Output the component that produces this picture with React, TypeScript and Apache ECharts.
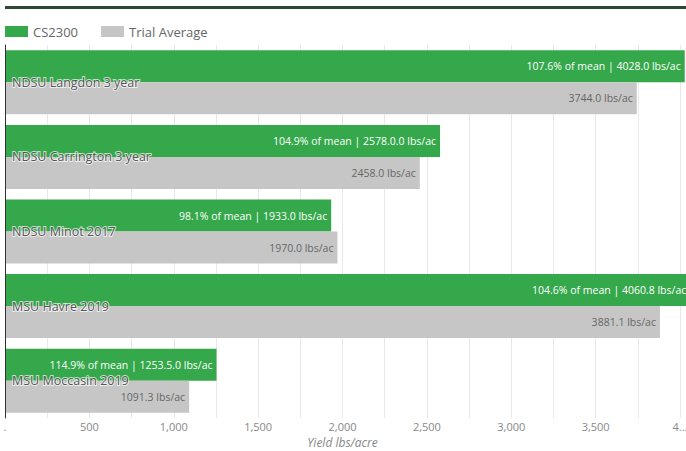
import React, { useEffect, useRef } from "react";
import * as echarts from "echarts";

const categories = [
  "NDSU Langdon 3 year",
  "NDSU Carrington 3 year",
  "NDSU Minot 2017",
  "MSU Havre 2019",
  "MSU Moccasin 2019",
];
const cs2300 = [4028.0, 2578.0, 1933.0, 4060.8, 1253.5];
const trialAverage = [3744.0, 2458.0, 1970.0, 3881.1, 1091.3];
const pctOfMean = ["107.6", "104.9", "98.1", "104.6", "114.9"];
const cs2300LabelYield = ["4028.0", "2578.0.0", "1933.0", "4060.8", "1253.5.0"];
const trialLabelYield = ["3744.0", "2458.0", "1970.0", "3881.1", "1091.3"];
const xTickValues = [0, 500, 1000, 1500, 2000, 2500, 3000, 3500, 4000];
const xTickLabels = [".", "500", "1,000", "1,500", "2,000", "2,500", "3,000", "3,500", "4..."];

const FONT = "'Open Sans', 'Noto Sans', sans-serif";

export default function App() {
  const ref = useRef<HTMLDivElement>(null);
  useEffect(() => {
    if (!ref.current) return;
    const chart = echarts.init(ref.current, undefined, { renderer: "svg" });
    chart.setOption({
      animation: false,
      textStyle: { fontFamily: FONT },
      graphic: [
        {
          type: "line",
          shape: { x1: 5, y1: 7.5, x2: 686, y2: 7.5 },
          style: { stroke: "#2c4a30", lineWidth: 3 },
        },
      ],
      legend: {
        left: 0,
        top: 20,
        itemWidth: 23,
        itemHeight: 11,
        itemGap: 23,
        icon: "rect",
        textStyle: { color: "#666", fontSize: 13, fontFamily: FONT },
        data: ["CS2300", "Trial Average"],
      },
      grid: {
        left: 5,
        right: 6,
        top: 45,
        bottom: 33,
        containLabel: false,
        outerBoundsMode: "none",
      },
      xAxis: {
        type: "value",
        min: 0,
        max: 4000,
        interval: 250,
        axisLine: { show: false },
        axisTick: { show: false },
        splitLine: { show: true, lineStyle: { color: "#e8e8e8", width: 1 } },
        axisLabel: {
          color: "#888",
          fontSize: 11,
          margin: 3,
          showMaxLabel: true,
          formatter: (v: number) => {
            const i = xTickValues.indexOf(v);
            return i >= 0 ? xTickLabels[i] : "";
          },
        },
        name: "Yield lbs/acre",
        nameLocation: "middle",
        nameGap: 18,
        nameTextStyle: { color: "#888", fontSize: 12, fontStyle: "italic", fontFamily: FONT },
      },
      yAxis: {
        type: "category",
        data: categories,
        inverse: true,
        z: 10,
        axisLine: { show: true, lineStyle: { color: "#333", width: 1 } },
        axisTick: { show: false },
        splitLine: { show: false },
        axisLabel: {
          inside: true,
          margin: 7,
          color: "#555",
          fontSize: 12.5,
          fontFamily: FONT,
          textBorderColor: "rgba(255,255,255,0.7)",
          textBorderWidth: 2,
        },
      },
      series: [
        {
          name: "CS2300",
          type: "bar",
          data: cs2300,
          barWidth: 32,
          barGap: "0%",
          clip: false,
          itemStyle: { color: "#34a84a" },
          label: {
            show: true,
            position: "insideRight",
            distance: 4,
            color: "#fff",
            fontSize: 10.5,
            fontFamily: FONT,
            formatter: (p: any) =>
              `${pctOfMean[p.dataIndex]}% of mean | ${cs2300LabelYield[p.dataIndex]} lbs/ac`,
          },
        },
        {
          name: "Trial Average",
          type: "bar",
          data: trialAverage,
          barWidth: 32,
          barGap: "0%",
          clip: false,
          itemStyle: { color: "#c6c6c6" },
          label: {
            show: true,
            position: "insideRight",
            distance: 4,
            color: "#666",
            fontSize: 10.5,
            fontFamily: FONT,
            formatter: (p: any) => `${trialLabelYield[p.dataIndex]} lbs/ac`,
          },
        },
      ],
    });
    return () => chart.dispose();
  }, []);
  return (
    <div
      ref={ref}
      style={{ position: "absolute", left: 0, top: 0, width: 686, height: 451, background: "#fff" }}
    />
  );
}
